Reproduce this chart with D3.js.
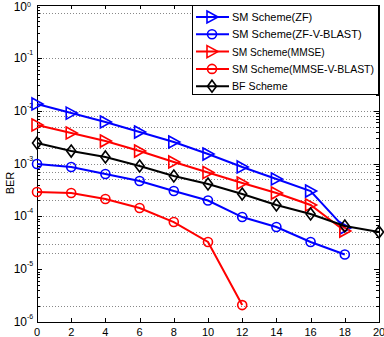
<!DOCTYPE html>
<html><head><meta charset="utf-8">
<script src="https://cdn.jsdelivr.net/npm/d3@7"></script>
<style>body{margin:0;background:#fff}svg{display:block}text{font-family:"Liberation Sans",Arial,sans-serif}</style>
</head><body><div id="chart"></div>
<script>
const snr = [0,2,4,6,8,10,12,14,16,18,20];
const zf        = [1.34e-2,9.0e-3,6.1e-3,3.94e-3,2.55e-3,1.51e-3,8.6e-4,5.09e-4,3.01e-4,6.0e-5];
const zfVblast  = [9.8e-4,8.6e-4,6.33e-4,4.66e-4,3.01e-4,1.99e-4,9.7e-5,6.28e-5,3.27e-5,1.89e-5];
const mmse      = [5.35e-3,3.78e-3,2.66e-3,1.72e-3,1.07e-3,6.75e-4,4.27e-4,2.76e-4,1.64e-4,5.27e-5];
const mmseVblast= [2.88e-4,2.76e-4,2.13e-4,1.44e-4,7.8e-5,3.27e-5,2.09e-6];
const bf        = [2.44e-3,1.72e-3,1.33e-3,8.96e-4,5.79e-4,4.09e-4,2.65e-4,1.64e-4,1.11e-4,6.56e-5,5.05e-5];
const seriesNames = ["SM Scheme(ZF)","SM Scheme(ZF-V-BLAST)","SM Scheme(MMSE)","SM Scheme(MMSE-V-BLAST)","BF Scheme"];
const xTicks = [0,2,4,6,8,10,12,14,16,18,20];
const yExponents = [0,-1,-2,-3,-4,-5,-6];
const gridValues = [0.7,1e-1,1e-2,8e-3,5e-3,2e-3,1e-3,7e-4,5e-4,2e-4,1e-4,5e-5,3e-5,2e-5,2e-6];

const W=384,H=337;
const L=37,R=379,T=5,B=322;
const svg=d3.select("#chart").append("svg").attr("width",W).attr("height",H);
const x=d3.scaleLinear().domain([0,20]).range([L,R]);
const y=d3.scaleLog().domain([1e-6,1]).range([B,T]);

// grid
svg.append("g").selectAll("line").data(gridValues).join("line")
  .attr("x1",L).attr("x2",R).attr("y1",d=>Math.round(y(d))+0.5).attr("y2",d=>Math.round(y(d))+0.5)
  .attr("stroke","#888").attr("stroke-width",1).attr("stroke-dasharray","1,2");

// minor and major y ticks
const minor=[];
for(let e=-6;e<0;e++) for(let k=2;k<=9;k++) minor.push(k*Math.pow(10,e));
const tg=svg.append("g").attr("stroke","#000").attr("stroke-width",1);
minor.forEach(v=>{const yy=Math.round(y(v))+0.5;
  tg.append("line").attr("x1",L).attr("x2",L+3).attr("y1",yy).attr("y2",yy);
  tg.append("line").attr("x1",R-3).attr("x2",R).attr("y1",yy).attr("y2",yy);});
yExponents.forEach(e=>{const yy=Math.round(y(Math.pow(10,e)))+0.5;
  tg.append("line").attr("x1",L).attr("x2",L+5).attr("y1",yy).attr("y2",yy);
  tg.append("line").attr("x1",R-5).attr("x2",R).attr("y1",yy).attr("y2",yy);});
xTicks.forEach(t=>{const xx=Math.round(x(t))+0.5;
  tg.append("line").attr("x1",xx).attr("x2",xx).attr("y1",B).attr("y2",B-4);
  tg.append("line").attr("x1",xx).attr("x2",xx).attr("y1",T).attr("y2",T+4);});

// box
svg.append("rect").attr("x",L+0.5).attr("y",T+0.5).attr("width",R-L).attr("height",B-T)
  .attr("fill","none").attr("stroke","#000");

// tick labels
svg.append("g").selectAll("text").data(xTicks).join("text")
  .attr("x",d=>x(d)).attr("y",B+14).attr("text-anchor","middle").attr("font-size",11).text(d=>d);
svg.append("g").selectAll("text").data(yExponents).join("text")
  .attr("x",27).attr("y",d=>Math.max(11,y(Math.pow(10,d))+4)).attr("text-anchor","end").attr("font-size",12).text("10");
svg.append("g").selectAll("text").data(yExponents).join("text")
  .attr("x",27).attr("y",d=>Math.max(7,y(Math.pow(10,d))-3)).attr("text-anchor","start").attr("font-size",7)
  .text(d=>d===0?"0":"-"+Math.abs(d));
svg.append("text").attr("transform","translate(14,183) rotate(-90)").attr("text-anchor","middle")
  .attr("font-size",11).text("BER");

// series
const series=[
 {name:seriesNames[0],vals:zf,color:"#0000ff",marker:"tri"},
 {name:seriesNames[1],vals:zfVblast,color:"#0000ff",marker:"circ"},
 {name:seriesNames[2],vals:mmse,color:"#ff0000",marker:"tri"},
 {name:seriesNames[3],vals:mmseVblast,color:"#ff0000",marker:"circ"},
 {name:seriesNames[4],vals:bf,color:"#000000",marker:"dia"}];
const line=d3.line().x((d,i)=>x(snr[i])).y(d=>y(d));
function drawMarker(g,type,cx,cy,color){
  if(type==="tri") g.append("path").attr("d",`M${cx-5},${cy-6}L${cx+6},${cy}L${cx-5},${cy+6}Z`)
    .attr("fill","none").attr("stroke",color).attr("stroke-width",1.6);
  else if(type==="circ") g.append("circle").attr("cx",cx).attr("cy",cy).attr("r",4.5)
    .attr("fill","none").attr("stroke",color).attr("stroke-width",1.6);
  else g.append("path").attr("d",`M${cx},${cy-6}L${cx+4.5},${cy}L${cx},${cy+6}L${cx-4.5},${cy}Z`)
    .attr("fill","none").attr("stroke",color).attr("stroke-width",1.6);
}
series.forEach(s=>{
  const g=svg.append("g");
  g.append("path").attr("d",line(s.vals)).attr("fill","none").attr("stroke",s.color).attr("stroke-width",2);
  s.vals.forEach((v,i)=>drawMarker(g,s.marker,x(snr[i]),y(v),s.color));
});

// legend
const lg=svg.append("g");
lg.append("rect").attr("x",192.5).attr("y",5.5).attr("width",186).attr("height",89)
  .attr("fill","#fff").attr("stroke","#000");
series.forEach((s,i)=>{
  const yy=17+i*17.3;
  lg.append("line").attr("x1",196).attr("x2",229).attr("y1",yy).attr("y2",yy)
    .attr("stroke",s.color).attr("stroke-width",2);
  drawMarker(lg,s.marker,212,yy,s.color);
  const t=lg.append("text").attr("x",232).attr("y",yy+4).attr("font-size",11).text(s.name);
  const w=t.node().getComputedTextLength();
  const maxW=142*s.name.length/23;
  if(w>maxW) t.attr("textLength",maxW).attr("lengthAdjust","spacingAndGlyphs");
});
</script></body></html>
